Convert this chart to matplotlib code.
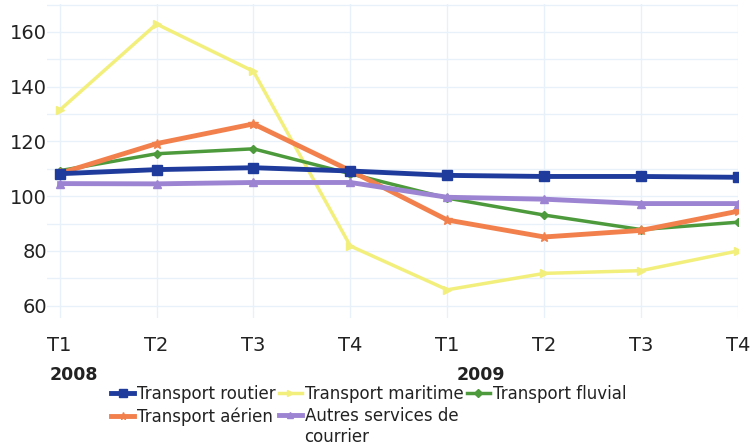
import matplotlib.pyplot as plt

# trimestres 2008-2009
trimestres = ['T1', 'T2', 'T3', 'T4', 'T1', 'T2', 'T3', 'T4']
annees = ['2008', '2009']

routier = [108.2, 109.7, 110.4, 109.2, 107.6, 107.2, 107.2, 106.9]
maritime = [131.4, 162.9, 145.6, 81.8, 65.8, 71.8, 72.8, 80.0]
fluvial = [109.3, 115.5, 117.3, 108.2, 99.3, 93.1, 87.8, 90.5]
aerien = [108.3, 119.2, 126.4, 109.3, 91.3, 85.1, 87.5, 94.5]
autres = [104.6, 104.5, 105.0, 105.0, 99.6, 98.9, 97.3, 97.3]

fig = plt.figure(figsize=(7.53, 4.45), dpi=100)
ax = fig.add_axes([47 / 753, 1 - 318 / 445, 691 / 753, 314 / 445])

x = list(range(len(trimestres)))
l1, = ax.plot(x, routier, color='#1f3c9c', lw=3.5, marker='s', ms=7, zorder=5)
l2, = ax.plot(x, maritime, color='#f3ef7c', lw=2.5, marker='>', ms=6, zorder=3)
l3, = ax.plot(x, fluvial, color='#4d9a3c', lw=2.5, marker='D', ms=4.5, zorder=4)
l4, = ax.plot(x, aerien, color='#f2804c', lw=3.5, marker='*', ms=7, zorder=4)
l5, = ax.plot(x, autres, color='#9d84d2', lw=3.5, marker='^', ms=6, zorder=4)

ax.set_xlim(-0.13, 7.0)
ax.set_ylim(55.5, 170.2)
ax.set_yticks([60, 80, 100, 120, 140, 160])
ax.set_yticks(range(60, 171, 10), minor=True)
ax.set_xticks(x)
ax.set_xticklabels(trimestres, fontsize=14, color='#222222')
ax.tick_params(axis='y', labelsize=14, labelcolor='#222222', length=0, pad=0, which='both')
ax.tick_params(axis='x', length=0, pad=13)
ax.grid(True, which='both', color='#e8f0fa', lw=1)
ax.set_axisbelow(True)
for s in ax.spines.values():
    s.set_visible(False)

# annees sous les trimestres
fig.text(50 / 753, 1 - 375 / 445, annees[0], fontsize=12.5, fontweight='bold', va='center', color='#222222')
fig.text(481 / 753, 1 - 375 / 445, annees[1], fontsize=12.5, fontweight='bold', va='center', ha='center', color='#222222')

leg = fig.legend([l1, l4, l2, l5, l3], ['Transport routier', 'Transport aérien', 'Transport maritime',
                                        'Autres services de', 'Transport fluvial'],
                 ncol=3, loc='upper left', bbox_to_anchor=(111 / 753, 1 - 385 / 445), frameon=False,
                 fontsize=12, handlelength=1.4, handletextpad=0.15, columnspacing=0.2, labelspacing=0.25,
                 borderpad=0, borderaxespad=0, markerscale=0.8)
for t in leg.get_texts():
    t.set_color('#222222')

# seconde ligne du libelle "Autres services de courrier"
fig.canvas.draw()
bb = leg.get_texts()[3].get_window_extent()
fig.text(bb.x0 / fig.bbox.width, (bb.y0 - 3) / fig.bbox.height, 'courrier', fontsize=12,
         color='#222222', va='top', ha='left')

fig.savefig('out.png', dpi=100)
